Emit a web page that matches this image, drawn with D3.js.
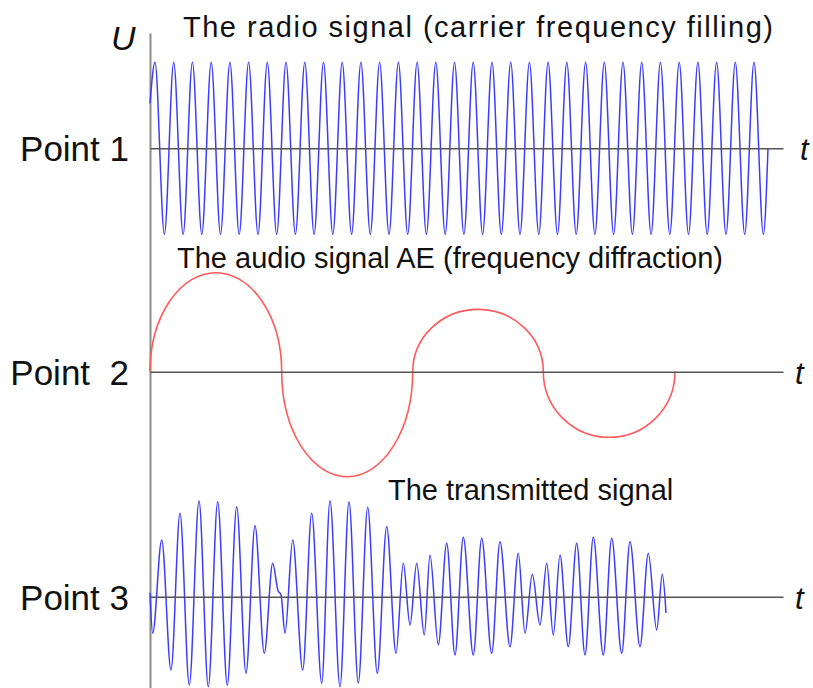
<!DOCTYPE html>
<html>
<head>
<meta charset="utf-8">
<script src="https://cdn.jsdelivr.net/npm/d3@7"></script>
<style>
  body { margin: 0; background: #fff; }
  text { font-family: "Liberation Sans", Arial, sans-serif; fill: #111; white-space: pre; }
</style>
</head>
<body>
<svg id="chart" width="813" height="688"></svg>
<script>
// time runs from the U axis (t = 0) to the end of the t axes
var tDomain = [0, 633];

// panel labels and captions
var pointLabels = ["Point 1", "Point  2", "Point 3"];
var captions = ["The radio signal (carrier frequency filling)",
                "The audio signal AE (frequency diffraction)",
                "The transmitted signal"];

// 1: carrier, crest / trough times and amplitude
var carrierStart = [0, 45];
var carrierCrestT = [5, 23.7, 42.4, 61.2, 79.9, 98.6, 117.3, 136, 154.8, 173.5, 192.2,
    210.9, 229.6, 248.4, 267.1, 285.8, 304.5, 323.2, 342, 360.7, 379.4, 398.1, 416.8,
    435.6, 454.3, 473, 491.7, 510.4, 529.2, 547.9, 566.6, 585.3, 604];
var carrierTroughT = [14.4, 33.1, 51.8, 70.5, 89.2, 108, 126.7, 145.4, 164.1, 182.8,
    201.6, 220.3, 239, 257.7, 276.4, 295.2, 313.9, 332.6, 351.3, 370, 388.8, 407.5,
    426.2, 444.9, 463.6, 482.4, 501.1, 519.8, 538.5, 557.2, 576, 594.7, 613.4];
var carrierAmp = 86;
var carrierEnd = [618, 0];

// 2: audio signal, half waves [t start, t end, peak]
var audioLobes = [[0, 131.7, 99], [131.7, 262.7, -105], [262.7, 393.3, 62.4], [393.3, 525, -65.6]];

// 3: transmitted signal, extrema [t, u]
var transmitted = [
    [0, 4], [2.7, -36.6], [11.7, 56.7], [21, -73.3], [30, 83.4], [39.3, -88.3], [49, 96],
    [58.3, -90], [67.7, 95], [77.3, -88.3], [86.7, 90], [96, -76.6], [105, 71],
    [114.3, -56.6], [122.7, 33.4], [128, 6], [131, 2], [135, -36.6], [142.7, 56.7],
    [152.7, -73.3], [161.7, 83.4], [171.7, -86.6], [180, 96], [190, -90], [199, 95],
    [208.3, -86.3], [217.7, 89.4], [227.3, -76.6], [236.7, 70], [246, -56.6],
    [253.3, 33.4], [260, -28.3], [266.7, 33.4], [274.3, -38.3], [280, 41.7],
    [288.3, -48], [296.7, 53.4], [305, -58.3], [313.3, 59.4], [323.3, -58.3],
    [331.7, 58.4], [341.7, -56.6], [350, 55], [360, -50], [368.3, 43.4], [375, -36.6],
    [382.3, 22.4], [390, -28.3], [396.7, 33.4], [403.3, -38.3], [410, 41.7],
    [418.3, -50], [426.7, 53.4], [435, -58.3], [443.3, 59.4], [453.3, -58.3],
    [461.7, 58.4], [471.7, -56.6], [480, 55], [490, -50], [498.3, 43.4], [506.7, -33.3],
    [512.3, 22.4], [516, -16.3]];

var axisY = [148.3, 371.7, 596.7];

var svg = d3.select("#chart");
var x = d3.scaleLinear().domain(tDomain).range([150, 783]);

function panelScale(i) {
    return d3.scaleLinear().domain([-100, 100]).range([axisY[i] + 100, axisY[i] - 100]);
}

// vertical U axis
var yAll = d3.scaleLinear().domain([0, 1]).range([688, 33]);
svg.append("g")
    .attr("transform", "translate(150,0)")
    .call(d3.axisLeft(yAll).ticks(0).tickSizeOuter(0))
    .select(".domain").attr("stroke", "#8a8a8a").attr("stroke-width", 2);

var wave = function (y) {
    return d3.line()
        .x(function (d) { return x(d[0]); })
        .y(function (d) { return y(d[1]); })
        .curve(d3.curveMonotoneX);
};

// carrier
var y1 = panelScale(0);
var carrierPts = [carrierStart];
carrierCrestT.forEach(function (t) { carrierPts.push([t, carrierAmp]); });
carrierTroughT.forEach(function (t) { carrierPts.push([t, -carrierAmp]); });
carrierPts.sort(function (a, b) { return a[0] - b[0]; });
carrierPts.push(carrierEnd);
svg.append("path")
    .attr("d", wave(y1)(carrierPts))
    .attr("fill", "none")
    .attr("stroke", "#3c3cff")
    .attr("stroke-width", 1.5);

// audio: each half wave is a half ellipse
var y2 = panelScale(1);
var audioPath = d3.path();
audioLobes.forEach(function (l, i) {
    var x0 = x(l[0]), x1 = x(l[1]);
    if (i === 0) audioPath.moveTo(x0, y2(0));
    var rx = (x1 - x0) / 2, ry = Math.abs(y2(l[2]) - y2(0));
    audioPath._ += "A" + rx + "," + ry + ",0,0," + (l[2] > 0 ? 1 : 0) + "," + x1 + "," + y2(0);
});
svg.append("path")
    .attr("d", audioPath.toString())
    .attr("fill", "none")
    .attr("stroke", "#ff5a5a")
    .attr("stroke-width", 1.6);

// transmitted
var y3 = panelScale(2);
svg.append("path")
    .attr("d", wave(y3)(transmitted))
    .attr("fill", "none")
    .attr("stroke", "#3c3cff")
    .attr("stroke-width", 1.5);

// t axes
axisY.forEach(function (ay) {
    svg.append("g")
        .attr("transform", "translate(0," + ay + ")")
        .call(d3.axisBottom(x).ticks(0).tickSizeOuter(0))
        .select(".domain").attr("stroke", "#555").attr("stroke-width", 1.6);
});

// labels
var tLabelX = [800, 795, 795];
axisY.forEach(function (ay, i) {
    svg.append("text")
        .attr("x", 129).attr("y", ay + 13)
        .attr("text-anchor", "end")
        .attr("font-size", 35)
        .text(pointLabels[i]);
    svg.append("text")
        .attr("x", tLabelX[i]).attr("y", ay + 12)
        .attr("font-size", 31).attr("font-style", "italic")
        .text("t");
});
svg.append("text").attr("x", 111).attr("y", 50)
    .attr("font-size", 34).attr("font-style", "italic").text("U");

var captionPos = [[183, 37], [177, 268], [388, 500]];
var captionSpacing = [1.5, 0, 0];
captions.forEach(function (c, i) {
    svg.append("text")
        .attr("x", captionPos[i][0]).attr("y", captionPos[i][1])
        .attr("font-size", 29)
        .attr("letter-spacing", captionSpacing[i])
        .text(c);
});
</script>
</body>
</html>
